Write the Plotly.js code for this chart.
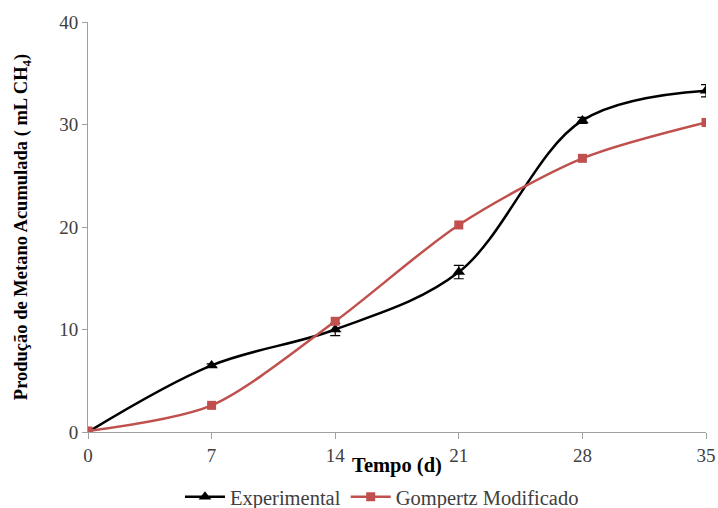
<!DOCTYPE html>
<html>
<head>
<meta charset="utf-8">
<script src="https://cdn.plot.ly/plotly-3.0.1.min.js"></script>
<style>html,body{margin:0;padding:0;background:#fff;}#chart{width:718px;height:508px;}</style>
</head>
<body>
<div id="chart"></div>
<script>
const days = [0, 7, 14, 21, 28, 35];
const experimental = [0, 6.5, 10.0, 15.6, 30.4, 33.3];
const experimentalErr = [0, 0.15, 0.6, 0.65, 0.3, 0.6];
const gompertz = [0.1, 2.6, 10.8, 20.2, 26.7, 30.2];
const xTicks = [0, 7, 14, 21, 28, 35];
const yTicks = [0, 10, 20, 30, 40];

const font = 'Liberation Serif';

const traces = [
  {
    x: days, y: experimental, name: 'Experimental', type: 'scatter', mode: 'lines+markers',
    line: {color: '#000000', width: 2.5, shape: 'spline', smoothing: 1},
    marker: {symbol: 'triangle-up', size: 11, color: '#000000'},
    error_y: {type: 'data', array: experimentalErr, visible: true, color: '#000000', thickness: 1.2, width: 5}
  },
  {
    x: days, y: gompertz, name: 'Gompertz Modificado', type: 'scatter', mode: 'lines+markers',
    line: {color: '#C0504D', width: 2.5, shape: 'spline', smoothing: 0.8},
    marker: {symbol: 'square', size: 9, color: '#C0504D'}
  }
];

const layout = {
  width: 718, height: 508,
  margin: {l: 88, r: 12, t: 22, b: 76, autoexpand: false},
  paper_bgcolor: '#ffffff', plot_bgcolor: '#ffffff',
  font: {family: font, color: '#404040', size: 19},
  showlegend: true,
  legend: {orientation: 'h', x: 0.532, xanchor: 'center', xref: 'container', y: 0.022, yanchor: 'middle', yref: 'container',
           font: {family: font, size: 20.5, color: '#404040'}, traceorder: 'normal', itemwidth: 40},
  xaxis: {
    range: [0, 35], tickvals: xTicks, ticktext: xTicks.map(String), automargin: true,
    showgrid: false, zeroline: false, showline: true, linecolor: '#a0a0a0', linewidth: 1,
    ticks: 'outside', ticklen: 6, tickcolor: '#a0a0a0',
    tickfont: {family: font, size: 19, color: '#404040'},
    title: {text: 'Tempo (d)', font: {family: font, size: 20.5, color: '#000000', weight: 'bold'}, standoff: 6}
  },
  yaxis: {
    range: [0, 40], tickvals: yTicks, ticktext: yTicks.map(String), automargin: true,
    showgrid: false, zeroline: false, showline: true, linecolor: '#a0a0a0', linewidth: 1,
    ticks: 'outside', ticklen: 5, tickcolor: '#a0a0a0',
    tickfont: {family: font, size: 19, color: '#404040'},
    title: {text: 'Produção de Metano Acumulada ( mL CH<sub>4</sub>)', font: {family: font, size: 18.5, color: '#000000', weight: 'bold'}, standoff: 26}
  }
};

Plotly.newPlot('chart', traces, layout, {displayModeBar: false, staticPlot: true});
</script>
</body>
</html>
